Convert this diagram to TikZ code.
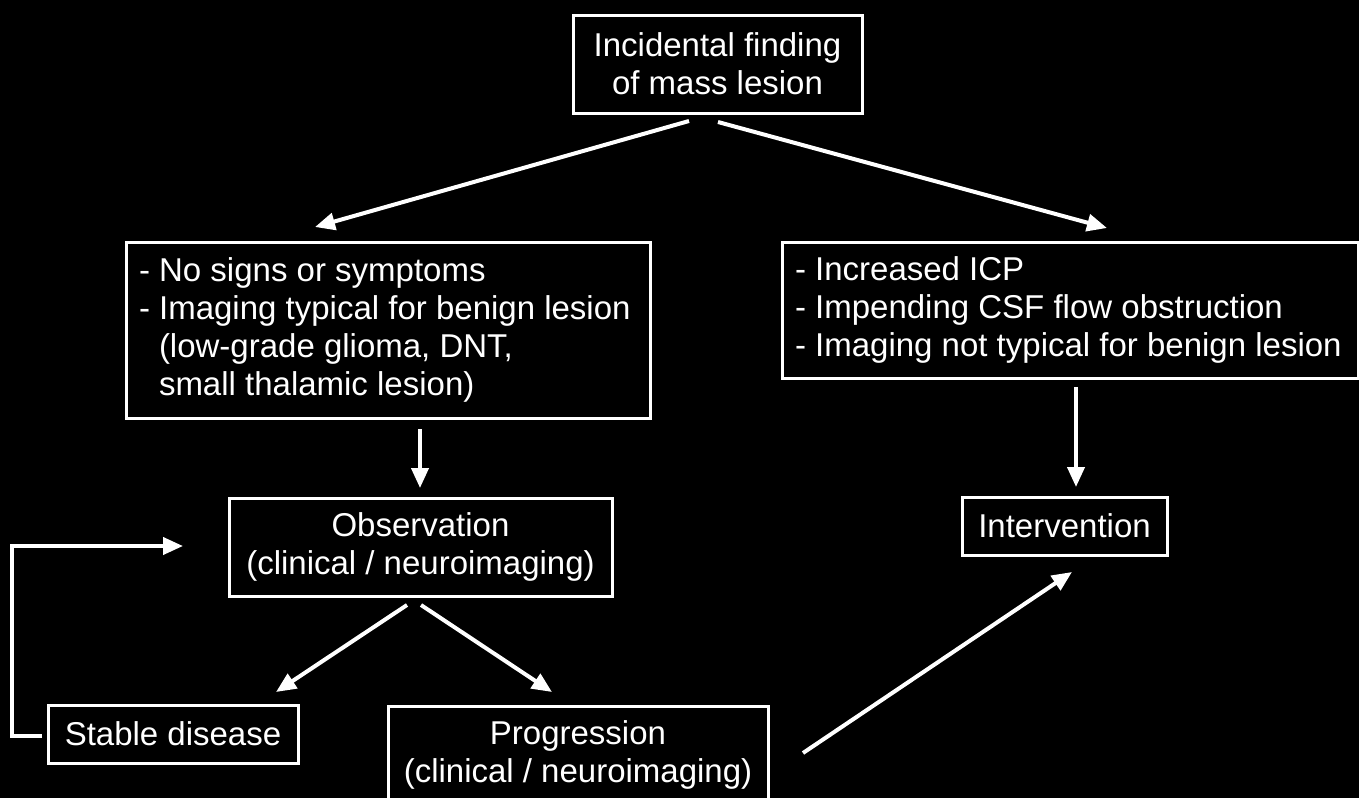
\documentclass[tikz,border=0pt]{standalone}
\usepackage{fontspec}
\setmainfont{Liberation Sans}
\usetikzlibrary{arrows.meta}
\begin{document}
\begin{tikzpicture}[x=1pt,y=-1pt,
  box/.style={draw=white, line width=3pt, text=white, font=\fontsize{33}{38}\selectfont, inner sep=0pt, align=center},
  lbox/.style={draw=white, line width=3pt, text=white, font=\fontsize{33}{38}\selectfont, inner xsep=13pt, inner ysep=0pt, align=flush left},
  conn/.style={draw=white, line width=4pt, line join=miter, -{Triangle[length=20pt,width=17pt]}},
]
\useasboundingbox (0,0) rectangle (1359,798);
\fill[black] (0,0) rectangle (1359,798);
\clip (0,0) rectangle (1359,798);

\node[box, minimum width=289pt, minimum height=98pt] (find) at (717.5,64) {Incidental finding\\of mass lesion};
\node[lbox, text width=498pt, minimum height=176pt] (benign) at (388,330) {\mbox{- No signs or symptoms}\\\mbox{- Imaging typical for benign lesion}\\\mbox{\hspace*{20pt}(low-grade glioma, DNT,}\\\mbox{\hspace*{20pt}small thalamic lesion)}};
\node[lbox, text width=550pt, minimum height=136pt] (notbenign) at (1070,310) {\mbox{- Increased ICP}\\\mbox{- Impending CSF flow obstruction}\\\mbox{- Imaging not typical for benign lesion}};
\node[box, minimum width=383pt, minimum height=98pt] (obs) at (420.5,547) {Observation\\(clinical / neuroimaging)};
\node[box, minimum width=205pt, minimum height=58pt] (interv) at (1064.5,526) {Intervention};
\node[box, minimum width=250pt, minimum height=58pt] (stable) at (173,734) {Stable disease};
\node[box, minimum width=380pt, minimum height=98pt] (prog) at (578,755) {Progression\\(clinical / neuroimaging)};

\coordinate (a1s) at (689,121);  \coordinate (a1e) at (315,227);
\coordinate (a2s) at (718,122);  \coordinate (a2e) at (1107,228);
\coordinate (a3s) at (420,429);  \coordinate (a3e) at (420,488);
\coordinate (a4s) at (1076,387); \coordinate (a4e) at (1076,487);
\coordinate (a5s) at (407,605);  \coordinate (a5e) at (276,692);
\coordinate (a6s) at (421,605);  \coordinate (a6e) at (552,692);
\coordinate (a7s) at (803,753);  \coordinate (a7e) at (1072,572);
\coordinate (fbs) at (42,736);   \coordinate (fbc1) at (12,736);
\coordinate (fbc2) at (12,546);  \coordinate (fbe) at (183,546);

\draw[conn] (a1s) -- (a1e);
\draw[conn] (a2s) -- (a2e);
\draw[conn] (a3s) -- (a3e);
\draw[conn] (a4s) -- (a4e);
\draw[conn] (a5s) -- (a5e);
\draw[conn] (a6s) -- (a6e);
\draw[conn] (a7s) -- (a7e);
\draw[conn] (fbs) -- (fbc1) -- (fbc2) -- (fbe);
\end{tikzpicture}
\end{document}
